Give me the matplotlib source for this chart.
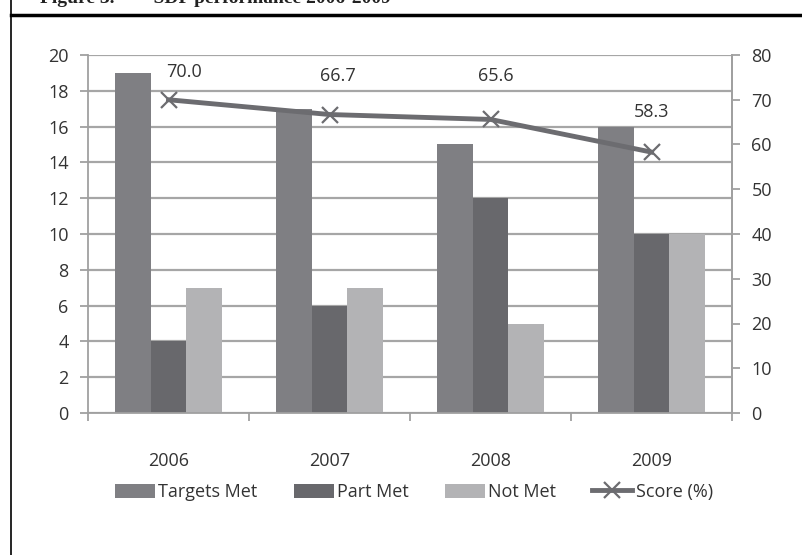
import numpy as np
import matplotlib.pyplot as plt
from matplotlib.lines import Line2D

years = ["2006", "2007", "2008", "2009"]
targets_met = [19, 17, 15, 16]
part_met = [4, 6, 12, 10]
not_met = [7, 7, 5, 10]
score = [70.0, 66.7, 65.6, 58.3]

plt.rcParams['font.family'] = ['Open Sans', 'DejaVu Sans']

W, H = 802, 555
fig = plt.figure(figsize=(W / 100, H / 100), dpi=100)

# frame around the figure (page box)
fig.add_artist(Line2D([11 / W, 11 / W], [0, 1], color='black', lw=1.2))
fig.add_artist(Line2D([11 / W, 1], [1 - 15 / H, 1 - 15 / H], color='black', lw=2.5))
fig.text(40 / W, 1 - 3 / H, "Figure 3.        SDP performance 2006-2009",
         family='Liberation Serif', weight='bold', fontsize=14, color='#222222',
         va='baseline')

ax = fig.add_axes([88 / W, 1 - 413 / H, (732 - 88) / W, (413 - 55) / H])
x = np.arange(len(years))
w = 0.22
c_t, c_p, c_n = '#7f7f83', '#68686c', '#b3b3b5'
ax.bar(x - w, targets_met, w, color=c_t, label='Targets Met', zorder=2)
ax.bar(x, part_met, w, color=c_p, label='Part Met', zorder=2)
ax.bar(x + w, not_met, w, color=c_n, label='Not Met', zorder=2)

fs = 13
ax.set_xlim(-0.5, 3.5)
ax.set_ylim(0, 20)
ax.set_yticks(range(0, 21, 2))
ax.set_xticks(x)
ax.set_xticklabels(years)
ax.set_xticks(np.arange(-0.5, 4, 1), minor=True)
ax.tick_params(axis='x', which='major', length=0, pad=28, labelsize=fs, labelcolor='#333333')
ax.tick_params(axis='x', which='minor', length=6, width=1.3, color='#a0a0a0')
ax.tick_params(axis='y', length=6, width=1.3, color='#a0a0a0', labelsize=fs,
               labelcolor='#333333', pad=8)
ax.yaxis.grid(True, color='#a6a6a6', lw=1.6, zorder=0)
ax.set_axisbelow(True)
ax.spines['top'].set_visible(False)
for s in ['left', 'right', 'bottom']:
    ax.spines[s].set_color('#a0a0a0')
    ax.spines[s].set_linewidth(1.3)

ax2 = ax.twinx()
ax2.set_ylim(0, 80)
ax2.set_yticks(range(0, 81, 10))
ax2.tick_params(axis='y', length=6, width=1.3, color='#a0a0a0', labelsize=fs,
                labelcolor='#333333', pad=8)
for s in ['top', 'left', 'bottom']:
    ax2.spines[s].set_visible(False)
ax2.spines['right'].set_color('#a0a0a0')
ax2.spines['right'].set_linewidth(1.3)
ax2.plot(x, score, color='#6c6c70', lw=3.5, marker='x', ms=11, mew=1.6,
         mec='#6c6c70', label='Score (%)', zorder=3)

offsets = [(11.5, 20), (6, 28), (4, 31), (0, 29)]
for xi, v, off in zip(x, score, offsets):
    ax2.annotate(f"{v:.1f}", (xi, v), xytext=off, textcoords='offset points',
                 ha='center', va='center', fontsize=fs, color='#333333')

h1, l1 = ax.get_legend_handles_labels()
h2, l2 = ax2.get_legend_handles_labels()
fig.legend(h1 + h2, l1 + l2, loc='center', bbox_to_anchor=(414 / W, 1 - 492 / H),
           ncol=4, frameon=False, fontsize=fs, handlelength=2.2, handleheight=0.8,
           handletextpad=0.2, columnspacing=2.0, labelcolor='#333333')

fig.savefig("out.png", dpi=100)
